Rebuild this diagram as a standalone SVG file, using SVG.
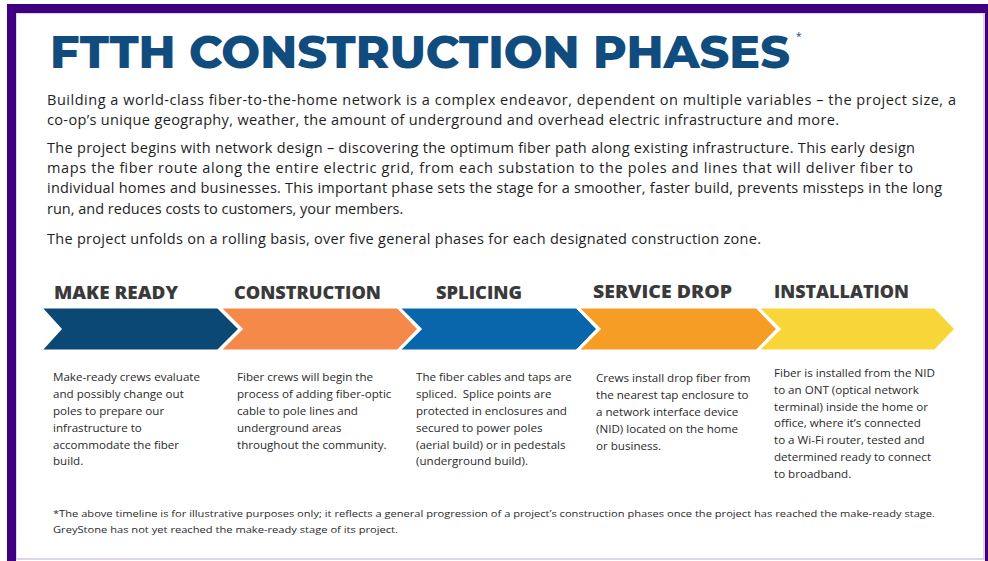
<svg xmlns="http://www.w3.org/2000/svg" width="988" height="561" viewBox="0 0 988 561">
<style>
.title{font-family:"Montserrat","Open Sans","Liberation Sans",sans-serif;font-weight:800;font-size:46px;fill:#114c7f}
.body{font-family:"Open Sans","Liberation Sans",sans-serif;font-size:14.5px;fill:#1e1e1e}
.lbl{font-family:"Open Sans","Liberation Sans",sans-serif;font-weight:800;font-size:17px;fill:#3a3a3a}
.desc{font-family:"Open Sans","Liberation Sans",sans-serif;font-size:11.6px;fill:#2a2a2a}
.foot{font-family:"Liberation Sans Narrow","Open Sans","Liberation Sans",sans-serif;font-size:9.5px;fill:#2a2a2a}
.chev{stroke:#fff;stroke-width:3;stroke-linejoin:miter}
</style>
<rect x="0" y="0" width="988" height="561" fill="#fff"/>
<g id="frame">
<rect x="16" y="13" width="968" height="546" fill="#fff" stroke="#d4c6e8" stroke-width="1.5"/>
<rect x="7" y="4" width="981" height="9" fill="#3e0080"/>
<rect x="7" y="4" width="9" height="557" fill="#3e0080"/>
<rect x="985" y="4" width="3" height="557" fill="#3e0080"/>
</g>
<g id="title">
<text class="title" x="50" y="68" textLength="740" lengthAdjust="spacingAndGlyphs">FTTH CONSTRUCTION PHASES</text>
<text x="796" y="40" font-family="Open Sans, sans-serif" font-size="10" fill="#114c7f">*</text>
</g>
<g id="intro">
<text class="body" x="47" y="105" textLength="909" lengthAdjust="spacing">Building a world-class fiber-to-the-home network is a complex endeavor, dependent on multiple variables – the project size, a</text>
<text class="body" x="47" y="125" textLength="792" lengthAdjust="spacing">co-op’s unique geography, weather, the amount of underground and overhead electric infrastructure and more.</text>
<text class="body" x="47" y="153" textLength="868" lengthAdjust="spacing">The project begins with network design – discovering the optimum fiber path along existing infrastructure. This early design</text>
<text class="body" x="47" y="173" textLength="866" lengthAdjust="spacing">maps the fiber route along the entire electric grid, from each substation to the poles and lines that will deliver fiber to</text>
<text class="body" x="47" y="193" textLength="895" lengthAdjust="spacing">individual homes and businesses. This important phase sets the stage for a smoother, faster build, prevents missteps in the long</text>
<text class="body" x="47" y="214">run, and reduces costs to customers, your members.</text>
<text class="body" x="47" y="244" textLength="714" lengthAdjust="spacing">The project unfolds on a rolling basis, over five general phases for each designated construction zone.</text>
</g>
<g id="connectors"></g>
<g id="phase-make-ready">
<text class="lbl" x="54" y="299" textLength="124" lengthAdjust="spacingAndGlyphs">MAKE READY</text>
<path class="chev" fill="#0b4874" d="M40,307 L218,307 L240,329 L218,351 L40,351 L60,329 Z"/>
<text class="desc" x="53" y="381">Make-ready crews evaluate</text>
<text class="desc" x="53" y="398">and possibly change out</text>
<text class="desc" x="53" y="415">poles to prepare our</text>
<text class="desc" x="53" y="432">infrastructure to</text>
<text class="desc" x="53" y="449">accommodate the fiber</text>
<text class="desc" x="53" y="465">build.</text>
</g>
<g id="phase-construction">
<text class="lbl" x="234" y="299" textLength="147" lengthAdjust="spacingAndGlyphs">CONSTRUCTION</text>
<path class="chev" fill="#f4894a" d="M219,307 L398,307 L419,329 L398,351 L219,351 L241,329 Z"/>
<text class="desc" x="237" y="381">Fiber crews will begin the</text>
<text class="desc" x="237" y="398">process of adding fiber-optic</text>
<text class="desc" x="237" y="415">cable to pole lines and</text>
<text class="desc" x="237" y="432">underground areas</text>
<text class="desc" x="237" y="449">throughout the community.</text>
</g>
<g id="phase-splicing">
<text class="lbl" x="436" y="299" textLength="86" lengthAdjust="spacingAndGlyphs">SPLICING</text>
<path class="chev" fill="#0a66aa" d="M398,307 L577,307 L598,329 L577,351 L398,351 L420,329 Z"/>
<text class="desc" x="416" y="381">The fiber cables and taps are</text>
<text class="desc" x="416" y="398" xml:space="preserve">spliced.  Splice points are</text>
<text class="desc" x="416" y="415">protected in enclosures and</text>
<text class="desc" x="416" y="432">secured to power poles</text>
<text class="desc" x="416" y="449">(aerial build) or in pedestals</text>
<text class="desc" x="416" y="465">(underground build).</text>
</g>
<g id="phase-service-drop">
<text class="lbl" x="593" y="298" textLength="139" lengthAdjust="spacingAndGlyphs">SERVICE DROP</text>
<path class="chev" fill="#f59d24" d="M577,307 L757,307 L778,329 L757,351 L577,351 L599,329 Z"/>
<text class="desc" x="596" y="382">Crews install drop fiber from</text>
<text class="desc" x="596" y="399">the nearest tap enclosure to</text>
<text class="desc" x="596" y="416">a network interface device</text>
<text class="desc" x="596" y="433">(NID) located on the home</text>
<text class="desc" x="596" y="450">or business.</text>
</g>
<g id="phase-installation">
<text class="lbl" x="774" y="298" textLength="135" lengthAdjust="spacingAndGlyphs">INSTALLATION</text>
<path class="chev" fill="#f8d63a" d="M757,307 L935,307 L956,329 L935,351 L757,351 L779,329 Z"/>
<text class="desc" x="774" y="377">Fiber is installed from the NID</text>
<text class="desc" x="774" y="394">to an ONT (optical network</text>
<text class="desc" x="774" y="411">terminal) inside the home or</text>
<text class="desc" x="774" y="427">office, where it’s connected</text>
<text class="desc" x="774" y="444">to a Wi-Fi router, tested and</text>
<text class="desc" x="774" y="461">determined ready to connect</text>
<text class="desc" x="774" y="478">to broadband.</text>
</g>
<g id="footnote">
<text class="foot" x="53" y="517" textLength="882" lengthAdjust="spacingAndGlyphs">*The above timeline is for illustrative purposes only; it reflects a general progression of a project’s construction phases once the project has reached the make-ready stage.</text>
<text class="foot" x="53" y="533" textLength="345" lengthAdjust="spacingAndGlyphs">GreyStone has not yet reached the make-ready stage of its project.</text>
</g>
</svg>
